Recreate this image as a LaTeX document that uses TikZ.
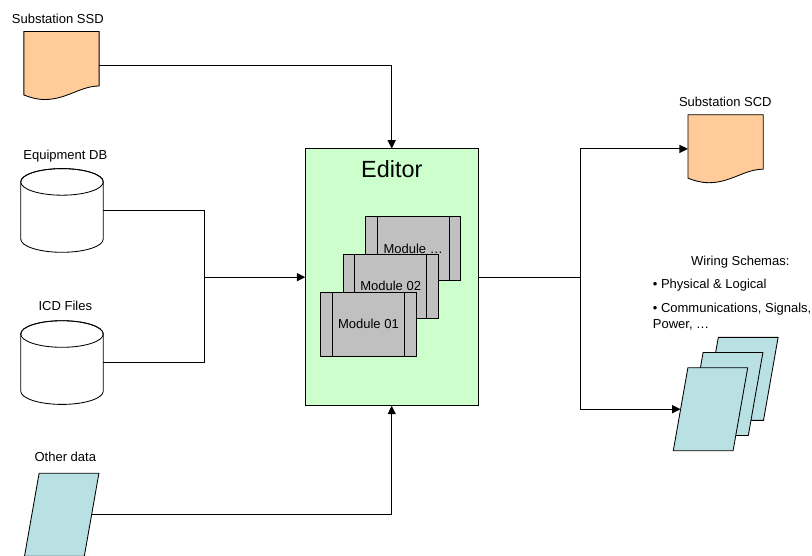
\documentclass[tikz,border=0pt]{standalone}
\usepackage{fontspec}
\setmainfont{Liberation Sans}
\usetikzlibrary{arrows.meta}
\definecolor{docorange}{HTML}{FFCC99}
\definecolor{sheetblue}{HTML}{B9E0E3}
\definecolor{editorgreen}{HTML}{CCFFCC}
\definecolor{modulegray}{HTML}{C0C0C0}
\tikzset{
  lbl/.style={font=\fontsize{13}{15.3}\selectfont,inner sep=0pt,anchor=base},
  link/.style={line width=1.1pt,color=black},
  arrowlink/.style={link,-{Triangle[length=8.5pt,width=8pt]}},
  docbox/.style={minimum width=75.3pt,minimum height=68.4pt,inner sep=0pt,outer sep=0pt},
  docline/.style={line width=.85pt,draw=black,fill=docorange},
  drumbox/.style={minimum width=82.5pt,minimum height=83.7pt,inner sep=0pt,outer sep=0pt},
  drumline/.style={line width=.85pt,draw=black,fill=white},
  sheetbox/.style={minimum width=59.8pt,minimum height=83pt,inner sep=0pt,outer sep=0pt},
  sheetline/.style={line width=.85pt,draw=black,fill=sheetblue},
  editorbox/.style={draw=black,fill=editorgreen,line width=.85pt,minimum width=172.7pt,minimum height=257pt,
    inner sep=0pt,outer sep=0pt},
  modulebox/.style={draw=black,fill=modulegray,line width=.85pt,minimum width=95.4pt,minimum height=64pt,
    inner sep=0pt,outer sep=0pt,font=\fontsize{13}{15.3}\selectfont,
    path picture={
      \draw ([xshift=11.5pt]path picture bounding box.north west)--([xshift=11.5pt]path picture bounding box.south west);
      \draw ([xshift=-11.5pt]path picture bounding box.north east)--([xshift=-11.5pt]path picture bounding box.south east);
    }},
}
\newcommand\docsheet[3]{
\node[docbox] (#1) at (#2,#3) {};
\draw[docline,shift={(#2,#3)}] (-37.6,-34.2)--(37.6,-34.2)--(37.6,20.3)
  .. controls (19,20.3) and (5,33.8) .. (-16.5,33.8)
  .. controls (-25,33.8) and (-31,31.8) .. (-37.6,29.3)--cycle;
}
\newcommand\dbdrum[3]{
\node[drumbox] (#1) at (#2,#3) {};
\draw[drumline,shift={(#2,#3)}] (-41.25,-28.5)--(-41.25,28.6)
  arc[start angle=180,end angle=0,x radius=41.25,y radius=13.3]--(41.25,-28.5)
  arc[start angle=0,end angle=-180,x radius=41.25,y radius=13.3]--cycle;
\draw[drumline,fill=none,shift={(#2,#3)}] (0,-28.5) ellipse [x radius=41.25,y radius=13.3];
}
\newcommand\slantsheet[3]{
\node[sheetbox] (#1) at (#2,#3) {};
\draw[sheetline,shift={(#2,#3)}] (-22.6,-41.5)--(37.2,-41.5)--(22.6,41.5)--(-37.2,41.5)--cycle;
}
\begin{document}
\begin{tikzpicture}[x=1pt,y=-1pt]
\useasboundingbox (0,0) rectangle (812,555);

\docsheet{ssd}{61.5}{65.7}
\docsheet{scd}{725.6}{148.9}
\dbdrum{equipdb}{62}{210.4}
\dbdrum{icd}{62}{362.5}
\slantsheet{otherdata}{61.7}{514.8}
\slantsheet{wiring3}{740.9}{378.9}
\slantsheet{wiring2}{725.7}{394}
\slantsheet{wiring1}{710.5}{409.2}

\node[editorbox] (editor) at (391.7,277.2) {};
\node[modulebox] (moduleN) at (413.2,248.5) {Module \dots};
\node[modulebox] (module2) at (390.7,286.3) {Module 02};
\node[modulebox] (module1) at (368.4,324.3) {Module 01};

\node[lbl,font=\fontsize{23.4}{26}\selectfont] (editorlbl) at (391.8,177.5) {Editor};
\node[lbl] (ssdlbl) at (57.8,23) {Substation SSD};
\node[lbl] (equiplbl) at (65.3,159) {Equipment DB};
\node[lbl] (icdlbl) at (65.3,310.2) {ICD Files};
\node[lbl] (otherlbl) at (65.3,461.2) {Other data};
\node[lbl] (scdlbl) at (725.3,106.2) {Substation SCD};
\node[lbl] (wiringlbl) at (740.3,265.5) {Wiring Schemas:};
\node[lbl,anchor=base west] (physlbl) at (652.7,288.8) {• Physical \& Logical};
\node[lbl,anchor=west,align=left] (commslbl) at (652.7,316.7) {• Communications, Signals,\\Power, \dots};

\coordinate (joinin) at (204.4,277.2);
\coordinate (joinout) at (580.4,277.2);
\draw[link] (equipdb.east)-|(joinin);
\draw[link] (icd.east)-|(joinin);
\draw[arrowlink] (joinin)--(editor.west);
\draw[arrowlink] (ssd.east)-|(editor.north);
\draw[arrowlink] (otherdata.east)-|(editor.south);
\draw[link] (editor.east)--(joinout);
\draw[arrowlink] (joinout)|-(scd.west);
\draw[arrowlink] (joinout)|-(wiring1.west);
\end{tikzpicture}
\end{document}
